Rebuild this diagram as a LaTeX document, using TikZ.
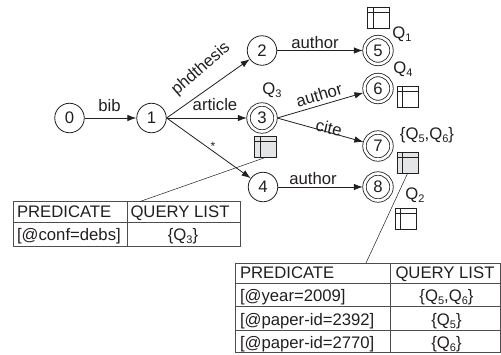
\documentclass[tikz,border=0pt]{standalone}
\usepackage{fontspec}
\setmainfont{Liberation Sans}
\usetikzlibrary{arrows.meta}
\definecolor{ink}{HTML}{231F20}
\definecolor{iconfill}{HTML}{E4E5E6}
\newcommand{\qsub}[2]{#1\raisebox{-3.5pt}{\fontsize{11}{11}\selectfont #2}}
\tikzset{
  every node/.style={text=ink,font=\fontsize{16.7}{16.7}\selectfont},
  state/.style={draw=ink,circle,line width=0.8pt,minimum size=29.5pt,inner sep=0pt,outer sep=0.4pt},
  final/.style={state,minimum size=27pt,double=white,double distance=2.6pt,line width=0.8pt,outer sep=1.7pt},
  edge/.style={draw=ink,line width=0.8pt,-{Latex[length=9pt,width=6.5pt]}},
  leader/.style={draw=ink,line width=0.5pt},
  tbl/.style={draw=ink!80,line width=0.9pt},
  icon/.style={draw=ink,line width=0.6pt,minimum width=21.5pt,minimum height=21pt,inner sep=0pt,outer sep=0pt,
    path picture={\draw[ink,line width=0.6pt]
      ([xshift=5.4pt]path picture bounding box.north west) -- ([xshift=5.4pt]path picture bounding box.south west)
      ([yshift=-5.2pt]path picture bounding box.north west) -- ([yshift=-5.2pt]path picture bounding box.north east);}},
  shaded/.style={icon,fill=iconfill},
  lab/.style={inner sep=0pt,outer sep=0pt},
  blab/.style={lab,anchor=base},
  cell/.style={lab,anchor=base west},
}
\begin{document}
\begin{tikzpicture}[x=1pt,y=-1pt]
\useasboundingbox[fill=white] (0,0) rectangle (501,354);
% states
\node[state] (n0) at (69.5,118) {0};
\node[state] (n1) at (151.5,118) {1};
\node[state] (n2) at (262,50.5) {2};
\node[final] (n3) at (262,118) {3};
\node[state] (n4) at (263,187) {4};
\node[final] (n5) at (378,50.5) {5};
\node[final] (n6) at (378,88.5) {6};
\node[final] (n7) at (378,146) {7};
\node[final] (n8) at (378,187) {8};
% edges
\draw[edge] (n0) -- (n1);
\draw[edge] (n1.east) -- (n2);
\draw[edge] (n1.east) -- (n3);
\draw[edge] (n1.east) -- (n4);
\draw[edge] (n2) -- (n5);
\draw[edge] (n3.east) -- (n6);
\draw[edge] (n3.east) -- (n7);
\draw[edge] (n4) -- (n8);
% edge labels
\node[blab] (lbib) at (109.5,111) {bib};
\node[lab,rotate=41] (lphd) at (201,69) {phdthesis};
\node[blab] (lart) at (215,110) {article};
\node[lab] (lstar) at (213,146.5) {\fontsize{12}{12}\selectfont *};
\node[blab] (la2) at (315,48) {author};
\node[lab,rotate=17] (la3) at (319,95) {author};
\node[lab,rotate=-13] (lcite) at (329,128) {cite};
\node[blab] (la4) at (313,184) {author};
% query labels
\node[blab] (q1) at (402,38) {\qsub{Q}{1}};
\node[blab] (q4) at (403,73) {\qsub{Q}{4}};
\node[blab] (q3) at (272,94) {\qsub{Q}{3}};
\node[blab] (q56) at (427,139) {\{\qsub{Q}{5},\qsub{Q}{6}\}};
\node[blab] (q2) at (415,199) {\qsub{Q}{2}};
% icons
\node[icon,anchor=north west] (i1) at (367.5,7) {};
\node[icon,anchor=north west] (i6) at (397,86.5) {};
\node[shaded,anchor=north west] (i3) at (254.5,136.5) {};
\node[shaded,anchor=north west] (i7) at (397,152) {};
\node[icon,anchor=north west] (i2) at (395,208) {};
% left table
\coordinate (ta) at (140,201.5);
\draw[tbl] (13,201.5) rectangle (240,246) (13,222.5) -- (240,222.5) (127,201.5) -- (127,246);
\node[cell] (t1a) at (17,217) {PREDICATE};
\node[cell] (t1b) at (130.5,217) {QUERY LIST};
\node[cell] (t1c) at (17,240) {[@conf=debs]};
\node[blab] (t1d) at (183,240) {\{\qsub{Q}{3}\}};
% right table
\coordinate (tb) at (366,263);
\draw[tbl] (235,263) rectangle (500,352.5)
  (235,283.5) -- (500,283.5) (235,306) -- (500,306) (235,330.5) -- (500,330.5)
  (390.7,263) -- (390.7,352.5);
\node[cell] (t2a) at (240,278) {PREDICATE};
\node[cell] (t2b) at (395.5,278) {QUERY LIST};
\node[cell] (t2c) at (240,301) {[@year=2009]};
\node[blab] (t2d) at (446.5,301) {\{\qsub{Q}{5},\qsub{Q}{6}\}};
\node[cell] (t2e) at (240,325) {[@paper-id=2392]};
\node[blab] (t2f) at (446.5,325) {\{\qsub{Q}{5}\}};
\node[cell] (t2g) at (240,348) {[@paper-id=2770]};
\node[blab] (t2h) at (446.5,348) {\{\qsub{Q}{6}\}};
% leaders
\draw[leader] (ta) -- (i3.south);
\draw[leader] (tb) -- (i7.south);
\end{tikzpicture}
\end{document}
